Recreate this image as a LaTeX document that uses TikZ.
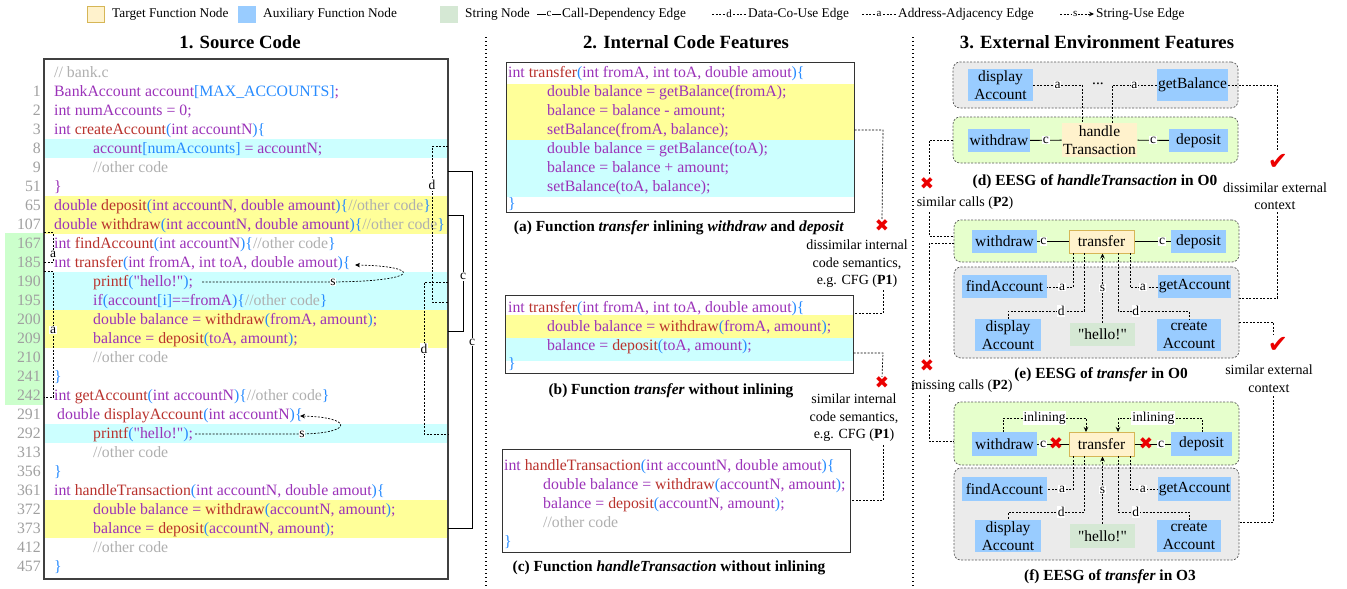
\documentclass[tikz,border=0pt]{standalone}
\usepackage{fontspec}
\setmainfont{Liberation Serif}
\newfontfamily\symfont{DejaVu Sans}
\usetikzlibrary{arrows.meta}
\definecolor{cpur}{RGB}{155,50,185}
\definecolor{cred}{RGB}{185,50,45}
\definecolor{cblu}{RGB}{40,140,255}
\definecolor{cgry}{RGB}{175,175,175}
\definecolor{lnumc}{RGB}{160,160,160}
\definecolor{hlcyan}{RGB}{204,255,255}
\definecolor{hlyel}{RGB}{255,255,153}
\definecolor{hlgrn}{RGB}{204,255,204}
\definecolor{auxblue}{RGB}{153,204,255}
\definecolor{tgtfill}{RGB}{255,242,204}
\definecolor{tgtdraw}{RGB}{214,182,86}
\definecolor{strfill}{RGB}{213,232,212}
\definecolor{grnbox}{RGB}{230,255,204}
\definecolor{grybox}{RGB}{235,235,235}
\definecolor{xred}{RGB}{235,0,0}
\newcommand\KP[1]{\textcolor{cpur}{#1}}
\newcommand\KR[1]{\textcolor{cred}{#1}}
\newcommand\KB[1]{\textcolor{cblu}{#1}}
\newcommand\KG[1]{\textcolor{cgry}{#1}}
\newcommand\myxmark{{\symfont\char"2716}}
\newcommand\myvmark{{\symfont\char"2714}}
\newcommand\hello{\textquotedbl hello!\textquotedbl}
\begin{document}
\begin{tikzpicture}[x=1pt,y=-1pt,
 code/.style={anchor=base west, inner sep=0, font=\fontsize{15.8}{19}\selectfont},
 lnum/.style={anchor=base east, inner sep=0, text=lnumc, font=\fontsize{15.8}{19}\selectfont},
 dedge/.style={line width=0.7pt, dash pattern=on 2pt off 1.5pt},
 cedge/.style={line width=0.9pt},
 elab/.style={fill=white, inner sep=0.8pt, font=\fontsize{13.5}{14}\selectfont},
 leg/.style={anchor=west, inner sep=0, font=\fontsize{13.3}{14}\selectfont},
 aux/.style={fill=auxblue, inner sep=0, align=center, font=\fontsize{15.5}{17.5}\selectfont},
 tgt/.style={fill=tgtfill, draw=tgtdraw, line width=1pt, inner sep=0, align=center, font=\fontsize{15.5}{17.5}\selectfont},
 strn/.style={fill=strfill, inner sep=0, align=center, font=\fontsize{15.5}{17.5}\selectfont},
 gcont/.style={draw=black!65, dash pattern=on 2pt off 1.5pt, line width=0.7pt, rounded corners=7pt, fill=grnbox, inner sep=0},
 ycont/.style={draw=black!65, dash pattern=on 2pt off 1.5pt, line width=0.7pt, rounded corners=7pt, fill=grybox, inner sep=0},
 capt/.style={inner sep=0, font=\fontsize{15.4}{18}\selectfont\bfseries},
 ttl/.style={inner sep=0, font=\fontsize{18.7}{22}\selectfont\bfseries},
 ann/.style={inner sep=0, align=center, font=\fontsize{14}{17.5}\selectfont},
 colsep/.style={line width=1.3pt, dash pattern=on 1.3pt off 2.7pt},
 xm/.style={inner sep=0, text=xred, font=\fontsize{17}{17}\selectfont},
 vm/.style={inner sep=0, text=xred, font=\fontsize{24}{24}\selectfont},
 arr/.style={-{Stealth[length=5pt,width=4.5pt]}}
]
\useasboundingbox (0,0) rectangle (1347,589);
\fill[white] (0,0) rectangle (1347,589);

% ---------------- legend ----------------
\node[fill=tgtfill, draw=tgtdraw, line width=0.8pt, minimum width=17pt, minimum height=16pt, inner sep=0] (lgT) at (96,14) {};
\node[leg] (lgTt) at (112,14) {Target Function Node};
\node[fill=auxblue, minimum width=18pt, minimum height=17pt, inner sep=0] (lgA) at (247,14) {};
\node[leg] (lgAt) at (263,14) {Auxiliary Function Node};
\node[fill=strfill, minimum width=18pt, minimum height=17pt, inner sep=0] (lgS) at (449,14) {};
\node[leg] (lgSt) at (465,14) {String Node};
\coordinate (lc1) at (537,14); \coordinate (lc2) at (561,14);
\draw[cedge] (lc1) -- node[elab, font=\fontsize{11}{12}\selectfont]{c} (lc2);
\node[leg] (lgC) at (562,14) {Call-Dependency Edge};
\coordinate (ld1) at (712,14); \coordinate (ld2) at (746,14);
\draw[dedge] (ld1) -- node[elab, font=\fontsize{11}{12}\selectfont]{d} (ld2);
\node[leg] (lgD) at (748,14) {Data-Co-Use Edge};
\coordinate (la1) at (862,14); \coordinate (la2) at (896,14);
\draw[dedge] (la1) -- node[elab, font=\fontsize{11}{12}\selectfont]{a} (la2);
\node[leg] (lgAA) at (898,14) {Address-Adjacency Edge};
\coordinate (ls1) at (1060,14); \coordinate (ls2) at (1094,14);
\draw[dedge, arr] (ls1) -- node[elab, pos=0.45, font=\fontsize{11}{12}\selectfont]{s} (ls2);
\node[leg] (lgSS) at (1096,14) {String-Use Edge};

% ---------------- titles & separators ----------------
\node[ttl] (t1) at (240,42) {1. Source Code};
\node[ttl] (t2) at (686,42) {2. Internal Code Features};
\node[ttl] (t3) at (1097,42) {3. External Environment Features};
\draw[colsep] (486,37) -- (486,589);
\draw[colsep] (913,37) -- (913,589);

% ---------------- 1. source code ----------------
\fill[hlgrn] (5,232.5) rectangle (44,404.5);
\fill[hlcyan] (44,138.5) rectangle (448,157.5);
\fill[hlyel] (44,195.5) rectangle (448,233.5);
\fill[hlcyan] (44,271.5) rectangle (448,309.5);
\fill[hlyel] (44,309.5) rectangle (448,347.5);
\fill[hlcyan] (44,423.5) rectangle (448,442.5);
\fill[hlyel] (44,499.5) rectangle (448,537.5);
\node[draw=black!75, line width=1.1pt, minimum width=404pt, minimum height=520pt, inner sep=0] (srcbox) at (246,319) {};

\foreach \n [count=\k] in {1,2,3,8,9,51,65,107,167,185,190,195,200,209,210,241,242,291,292,313,356,361,372,373,412,457}
  \node[lnum] (ln\k) at (41,77+19*\k) {\n};

\node[code] (L0) at (54,77) {\KG{// bank.c}};
\node[code] (L1) at (54,96) {\KP{BankAccount account}\KB{[MAX\_ACCOUNTS]}\KP{;}};
\node[code] (L2) at (54,115) {\KP{int numAccounts = 0;}};
\node[code] (L3) at (54,134) {\KP{int }\KR{createAccount}\KB{(}\KP{int accountN}\KB{)\{}};
\node[code] (L4) at (93,153) {\KP{account}\KB{[numAccounts]}\KP{\ = accountN;}};
\node[code] (L5) at (93,172) {\KG{//other code}};
\node[code] (L6) at (54,191) {\KP{\}}};
\node[code] (L7) at (54,210) {\KP{double }\KR{deposit}\KB{(}\KP{int accountN, double amount}\KB{)\{}\KG{//other code}\KB{\}}};
\node[code] (L8) at (54,229) {\KP{double }\KR{withdraw}\KB{(}\KP{int accountN, double amount}\KB{)\{}\KG{//other code}\KB{\}}};
\node[code] (L9) at (54,248) {\KP{int }\KR{findAccount}\KB{(}\KP{int accountN}\KB{)\{}\KG{//other code}\KB{\}}};
\node[code] (L10) at (54,267) {\KP{int }\KR{transfer}\KB{(}\KP{int fromA, int toA, double amout}\KB{)\{}};
\node[code] (L11) at (93,286) {\KR{printf}\KB{(}\KP{\hello}\KB{)}\KP{;}};
\node[code] (L12) at (93,305) {\KP{if}\KB{(}\KP{account}\KB{[i]}\KP{==fromA}\KB{)\{}\KG{//other code}\KB{\}}};
\node[code] (L13) at (93,324) {\KP{double balance = }\KR{withdraw}\KB{(}\KP{fromA, amount}\KB{)}\KP{;}};
\node[code] (L14) at (93,343) {\KP{balance = }\KR{deposit}\KB{(}\KP{toA, amount}\KB{)}\KP{;}};
\node[code] (L15) at (93,362) {\KG{//other code}};
\node[code] (L16) at (54,381) {\KB{\}}};
\node[code] (L17) at (54,400) {\KP{int }\KR{getAccount}\KB{(}\KP{int accountN}\KB{)\{}\KG{//other code}\KB{\}}};
\node[code] (L18) at (57,419) {\KP{double }\KR{displayAccount}\KB{(}\KP{int accountN}\KB{)\{}};
\node[code] (L19) at (93,438) {\KR{printf}\KB{(}\KP{\hello}\KB{)}\KP{;}};
\node[code] (L20) at (93,457) {\KG{//other code}};
\node[code] (L21) at (54,476) {\KB{\}}};
\node[code] (L22) at (54,495) {\KP{int }\KR{handleTransaction}\KB{(}\KP{int accountN, double amout}\KB{)\{}};
\node[code] (L23) at (93,514) {\KP{double balance = }\KR{withdraw}\KB{(}\KP{accountN, amount}\KB{)}\KP{;}};
\node[code] (L24) at (93,533) {\KP{balance = }\KR{deposit}\KB{(}\KP{accountN, amount}\KB{)}\KP{;}};
\node[code] (L25) at (93,552) {\KG{//other code}};
\node[code] (L26) at (54,571) {\KB{\}}};

% address-adjacency edges (left)
\draw[dedge] (44,232.5) -- (53,232.5) -- node[elab, pos=0.75]{a} (53,262) -- (44,262);
\draw[dedge] (44,271) -- (53,271) -- node[elab, pos=0.47]{a} (53,397) -- (44,397);
% string-use edges
\coordinate (s1a) at (202,282); \coordinate (s1b) at (333,282); \coordinate (s1c) at (355,265);
\draw[dedge, arr] (s1a) -- (s1b) .. controls (425,281) and (420,266) .. (s1c);
\node[elab] (s1l) at (s1b) {s};
\coordinate (s2a) at (195,434); \coordinate (s2b) at (302,434); \coordinate (s2c) at (300,416);
\draw[dedge, arr] (s2a) -- (s2b) .. controls (355,433) and (352,417) .. (s2c);
\node[elab] (s2l) at (s2b) {s};
% data-co-use edges
\draw[dedge] (448,146) -- (432,146) -- node[elab, pos=0.25]{d} (432,302) -- (448,302);
\draw[dedge] (448,282) -- (424,282) -- node[elab, pos=0.44]{d} (424,434) -- (448,434);
% call edges
\draw[cedge] (448,171) -- (472,171) -- node[elab, pos=0.48]{c} (472,528) -- (448,528);
\draw[cedge] (448,215) -- (463,215) -- node[elab, pos=0.53]{c} (463,331) -- (448,331);

% ---------------- 2. internal code features ----------------
% (a)
\fill[hlyel] (506,84) rectangle (854,140);
\fill[hlcyan] (506,140) rectangle (854,196.5);
\node[draw=black!80, line width=1pt, minimum width=348pt, minimum height=150pt, inner sep=0] (boxA) at (680,137) {};
\node[code] (A0) at (508,77) {\KP{int }\KR{transfer}\KB{(}\KP{int fromA, int toA, double amout}\KB{)\{}};
\node[code] (A1) at (547,96) {\KP{double balance = getBalance(fromA);}};
\node[code] (A2) at (547,115) {\KP{balance = balance - amount;}};
\node[code] (A3) at (547,134) {\KP{setBalance(fromA, balance);}};
\node[code] (A4) at (547,153) {\KP{double balance = getBalance(toA);}};
\node[code] (A5) at (547,172) {\KP{balance = balance + amount;}};
\node[code] (A6) at (547,191) {\KP{setBalance(toA, balance);}};
\node[code] (A7) at (508,208) {\KB{\}}};
\node[capt] (capA) at (679,228) {(a) Function \textit{transfer} inlining \textit{withdraw} and \textit{deposit}};
% (b)
\fill[hlyel] (505,315) rectangle (853,338);
\fill[hlcyan] (505,338) rectangle (853,361);
\node[draw=black!80, line width=1pt, minimum width=348pt, minimum height=78pt, inner sep=0] (boxB) at (679,334) {};
\node[code] (B0) at (508,312) {\KP{int }\KR{transfer}\KB{(}\KP{int fromA, int toA, double amout}\KB{)\{}};
\node[code] (B1) at (547,331) {\KP{double balance = }\KR{withdraw}\KB{(}\KP{fromA, amount}\KB{)}\KP{;}};
\node[code] (B2) at (547,350) {\KP{balance = }\KR{deposit}\KB{(}\KP{toA, amount}\KB{)}\KP{;}};
\node[code] (B3) at (508,368) {\KB{\}}};
\node[capt] (capB) at (671,391) {(b) Function \textit{transfer} without inlining};
% (c)
\node[draw=black!80, line width=1pt, minimum width=348pt, minimum height=103pt, inner sep=0] (boxC) at (676,500.5) {};
\node[code] (C0) at (504,470) {\KP{int }\KR{handleTransaction}\KB{(}\KP{int accountN, double amout}\KB{)\{}};
\node[code] (C1) at (543,489) {\KP{double balance = }\KR{withdraw}\KB{(}\KP{accountN, amount}\KB{)}\KP{;}};
\node[code] (C2) at (543,508) {\KP{balance = }\KR{deposit}\KB{(}\KP{accountN, amount}\KB{)}\KP{;}};
\node[code] (C3) at (543,527) {\KG{//other code}};
\node[code] (C4) at (504,546) {\KB{\}}};
\node[capt] (capC) at (669,568) {(c) Function \textit{handleTransaction} without inlining};
% P1 annotations
\node[xm] (xA) at (882,226) {\myxmark};
\node[ann] (annA) at (857,264) {dissimilar internal\\code semantics,\\e.g. CFG (\textbf{P1})};
\draw[dedge] (boxA.east |- 0,130) -- (883,130) -- (xA.north);
\draw[dedge] (883,290) -- (883,313) -- (boxB.east |- 0,313);
\node[xm] (xB) at (882,383) {\myxmark};
\node[ann] (annB) at (854,418) {similar internal\\code semantics,\\e.g. CFG (\textbf{P1})};
\draw[dedge] (boxB.east |- 0,353) -- (883,353) -- (xB.north);
\draw[dedge] (883,445) -- (883,500) -- (boxC.east |- 0,500);

% ---------------- 3. external environment ----------------
% (d)
\node[ycont, minimum width=285pt, minimum height=46pt] (GD) at (1095.5,85) {};
\node[gcont, minimum width=285pt, minimum height=46pt] (ND) at (1095.5,140) {};
\node[aux, minimum width=65pt, minimum height=32pt] (dA) at (1000.5,85) {display\\Account};
\node[aux, minimum width=71pt, minimum height=32pt] (gB) at (1192.5,85) {getBalance};
\node[inner sep=0, font=\fontsize{15.5}{17}\selectfont] (dots) at (1098,84) {...};
\node[aux, minimum width=62pt, minimum height=23pt] (wD) at (999,140.5) {withdraw};
\node[tgt, draw=none, minimum width=75pt, minimum height=34pt] (hT) at (1099.5,140) {handle\\Transaction};
\node[aux, minimum width=59pt, minimum height=23pt] (dP) at (1198.5,140.5) {deposit};
\draw[dedge] (dA.east) -- node[elab]{a} (1082,85) -- (1082,123);
\draw[dedge] (gB.west) -- node[elab]{a} (1112,85) -- (1112,123);
\draw[cedge] (wD) -- node[elab, pos=0.5]{c} (hT);
\draw[cedge] (hT) -- node[elab, pos=0.5]{c} (dP);
\node[capt] (capD) at (1095,182) {(d) EESG of \textit{handleTransaction} in O0};

\node[vm] (vD) at (1278,162) {\myvmark};
\node[ann] (annD) at (1275,196) {dissimilar external\\context};
\draw[dedge] (gB.east) -- (1277,85) -- (1277,150);
\draw[dedge] (1277,212) -- (1277,298) -- (1239,298);
\node[xm] (xD) at (927,184) {\myxmark};
\node[ann] (annD2) at (965,203) {similar calls (\textbf{P2})};
\draw[dedge] (ND.west) -- (929,140) -- (929,175);
\draw[dedge] (929,212) -- (929,236) -- (954,236);

% (e)
\node[gcont, minimum width=285pt, minimum height=42pt] (NE) at (1096.5,241) {};
\node[ycont, minimum width=285pt, minimum height=91pt] (GE) at (1096.5,312.5) {};
\node[aux, minimum width=65pt, minimum height=23pt] (wE) at (1004.5,241.5) {withdraw};
\node[tgt, minimum width=65pt, minimum height=23pt] (tE) at (1101.5,241.5) {transfer};
\node[aux, minimum width=55pt, minimum height=23pt] (dE) at (1198.5,241.5) {deposit};
\draw[cedge] (wE) -- node[elab, pos=0.2]{c} (tE);
\draw[cedge] (tE) -- node[elab, pos=0.76]{c} (dE);
\node[aux, minimum width=85pt, minimum height=23pt] (fE) at (1004.5,286.5) {findAccount};
\node[aux, minimum width=73pt, minimum height=23pt] (gE) at (1194.5,286.5) {getAccount};
\node[aux, minimum width=66pt, minimum height=32pt] (daE) at (1008,335) {display\\Account};
\node[strn, minimum width=65pt, minimum height=23pt] (hE) at (1102.5,334.5) {\hello};
\node[aux, minimum width=64pt, minimum height=32pt] (cE) at (1189,335) {create\\Account};
\draw[dedge] (1073,253) -- (1073,287) -- node[elab, pos=0.42]{a} (fE.east |- 0,287);
\draw[dedge] (1084,253) -- (1084,311) -- node[elab, pos=0.3]{d} (1008,311) -- (daE.north);
\draw[dedge, arr] (hE.north) -- node[elab]{s} (hE.north |- tE.south);
\draw[dedge] (1118,253) -- (1118,311) -- node[elab, pos=0.25]{d} (1189,311) -- (cE.north);
\draw[dedge] (1130,253) -- (1130,287) -- node[elab, pos=0.46]{a} (gE.west |- 0,287);
\node[capt] (capE) at (1101,375) {(e) EESG of \textit{transfer} in O0};

\node[xm] (xE) at (927,366) {\myxmark};
\node[ann] (annE) at (962,386) {missing calls (\textbf{P2})};
\draw[dedge] (954,243) -- (929,243) -- (929,357);
\draw[dedge] (929,395) -- (929,441) -- (954,441);
\node[vm] (vE) at (1278,345) {\myvmark};
\node[ann] (annE2) at (1269,378.5) {similar external\\context};
\draw[dedge] (GE.east |- 0,322) -- (1273,322) -- (1273,334);
\draw[dedge] (1273,396) -- (1273,522) -- (1239,522);

% (f)
\node[gcont, minimum width=285pt, minimum height=63pt] (NF) at (1096.5,433.5) {};
\node[ycont, minimum width=285pt, minimum height=92pt] (GF) at (1096.5,514) {};
\node[aux, minimum width=65pt, minimum height=24pt] (wF) at (1004.5,444) {withdraw};
\node[tgt, minimum width=65pt, minimum height=24pt] (tF) at (1101.5,444) {transfer};
\node[aux, minimum width=61pt, minimum height=24pt] (dF) at (1201.5,444) {deposit};
\draw[cedge] (wF) -- node[elab, pos=0.19]{c} (tF);
\draw[cedge] (tF) -- node[elab, pos=0.73]{c} (dF);
\node[xm] (xF1) at (1056,444) {\myxmark};
\node[xm] (xF2) at (1146,444) {\myxmark};
\draw[dedge, arr] (1003,432) -- (1003,418) -- node[elab]{inlining} (1086,418) -- (1086,432);
\draw[dedge, arr] (1202,432) -- (1202,418) -- node[elab, pos=0.58]{inlining} (1118,418) -- (1118,432);
\node[aux, minimum width=85pt, minimum height=24pt] (fF) at (1004.5,489) {findAccount};
\node[aux, minimum width=73pt, minimum height=24pt] (gF) at (1194.5,489) {getAccount};
\node[aux, minimum width=66pt, minimum height=32pt] (daF) at (1008,536) {display\\Account};
\node[strn, minimum width=65pt, minimum height=24pt] (hF) at (1102.5,536) {\hello};
\node[aux, minimum width=64pt, minimum height=32pt] (cF) at (1189,536) {create\\Account};
\draw[dedge] (1073,456) -- (1073,489) -- node[elab, pos=0.42]{a} (fF.east);
\draw[dedge] (1084,456) -- (1084,512) -- node[elab, pos=0.3]{d} (1008,512) -- (daF.north);
\draw[dedge, arr] (hF.north) -- node[elab]{s} (hF.north |- tF.south);
\draw[dedge] (1118,456) -- (1118,512) -- node[elab, pos=0.25]{d} (1189,512) -- (cF.north);
\draw[dedge] (1130,456) -- (1130,489) -- node[elab, pos=0.46]{a} (gF.west);
\node[capt] (capF) at (1110,577) {(f) EESG of \textit{transfer} in O3};
\end{tikzpicture}
\end{document}
